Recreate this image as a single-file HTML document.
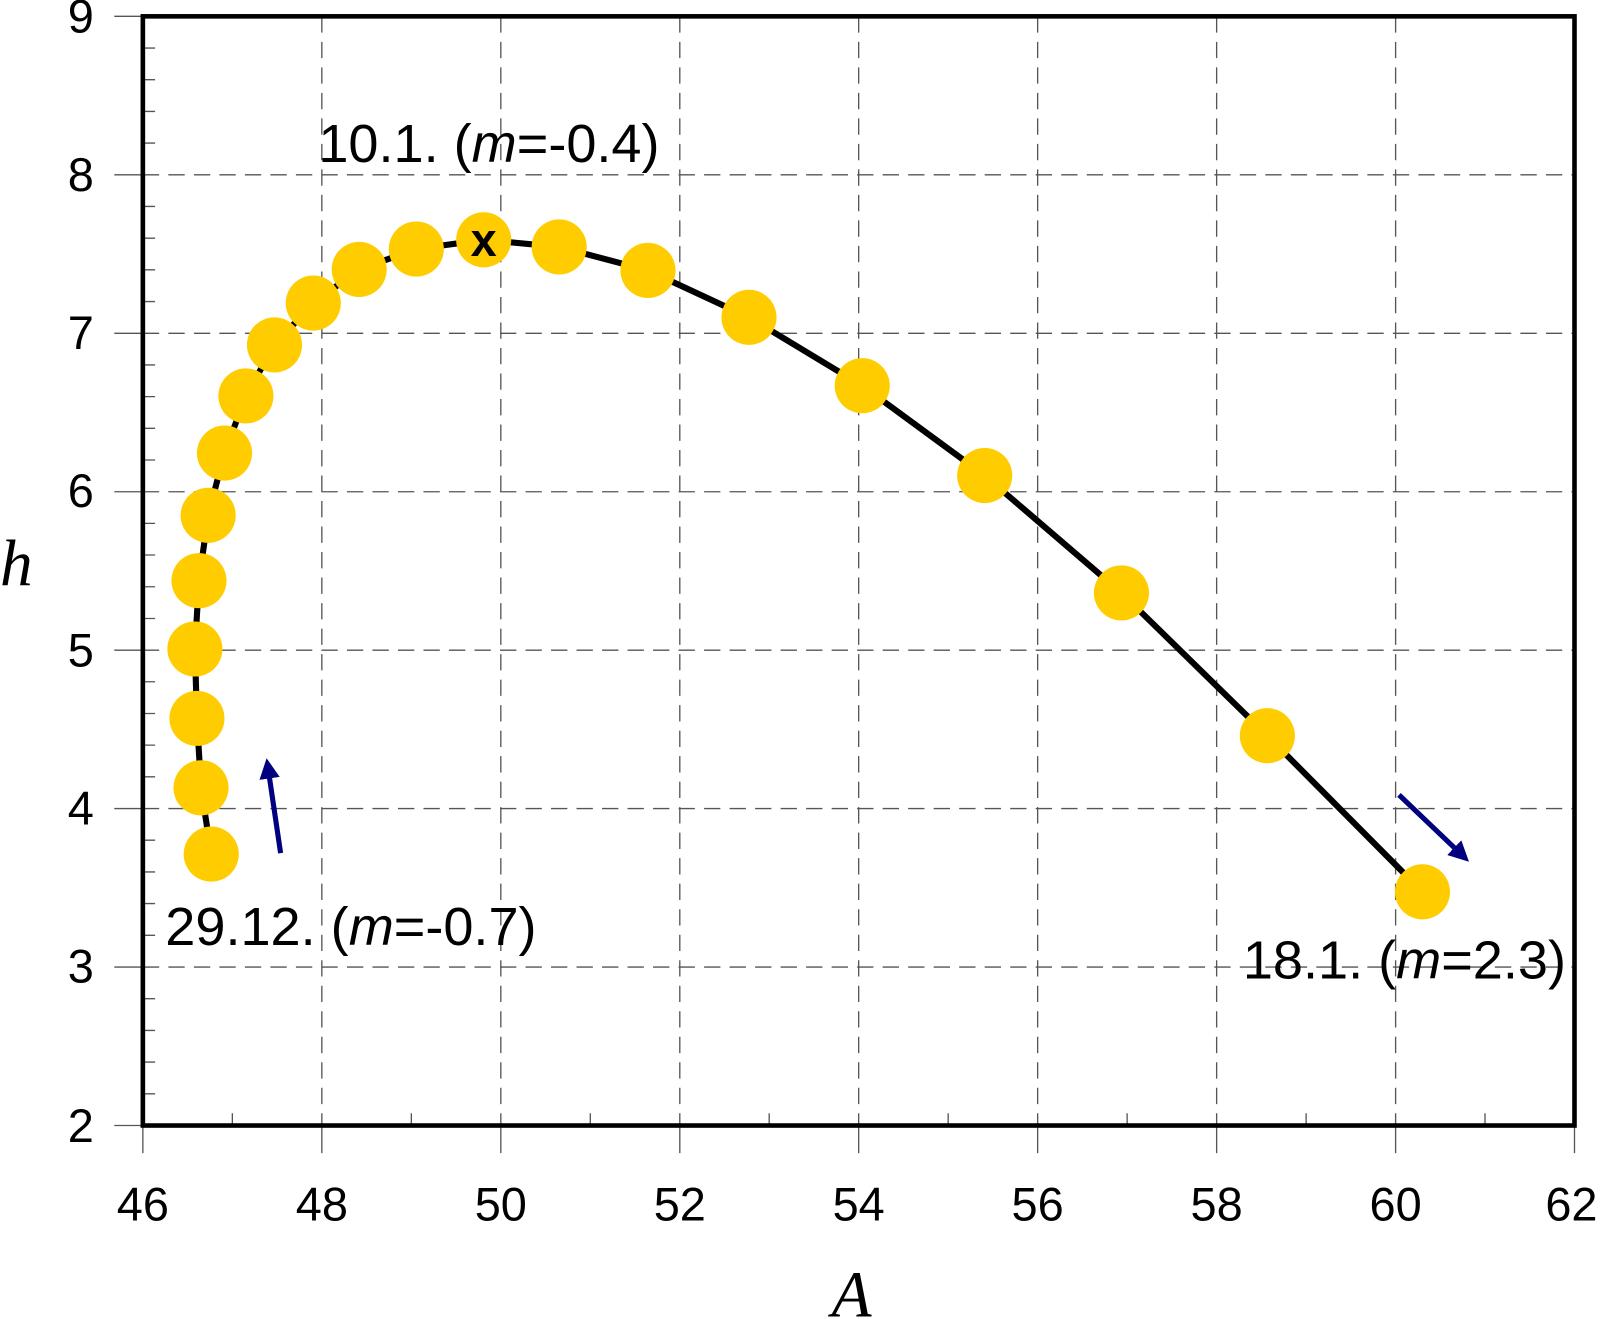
<!DOCTYPE html>
<html><head><style>body{margin:0;background:#fff}svg{display:block}</style></head>
<body>
<svg width="1600" height="1319" viewBox="0 0 1568 1292.6" xmlns="http://www.w3.org/2000/svg" font-family="Liberation Sans, sans-serif">
<defs><marker id="ah" markerWidth="4" markerHeight="4" refX="3" refY="2" orient="auto"><path d="M0,0 L4,2 L0,4 Z" fill="#000080"/></marker></defs>
<rect width="1568" height="1293" fill="#fff"/>
<g stroke="#555" stroke-width="1.3" stroke-dasharray="16,9">
<line x1="315.4" y1="16" x2="315.4" y2="1103"/><line x1="490.8" y1="16" x2="490.8" y2="1103"/><line x1="666.2" y1="16" x2="666.2" y2="1103"/><line x1="841.5" y1="16" x2="841.5" y2="1103"/><line x1="1016.9" y1="16" x2="1016.9" y2="1103"/><line x1="1192.3" y1="16" x2="1192.3" y2="1103"/><line x1="1367.7" y1="16" x2="1367.7" y2="1103"/>
<line x1="140" y1="171.3" x2="1543" y2="171.3"/><line x1="140" y1="326.6" x2="1543" y2="326.6"/><line x1="140" y1="481.9" x2="1543" y2="481.9"/><line x1="140" y1="637.2" x2="1543" y2="637.2"/><line x1="140" y1="792.4" x2="1543" y2="792.4"/><line x1="140" y1="947.7" x2="1543" y2="947.7"/>
</g>
<g stroke="#555" stroke-width="1.3">
<path d="M140,1071.9h12M140,1040.8h12M140,1009.8h12M140,978.7h12M140,916.6h12M140,885.5h12M140,854.5h12M140,823.4h12M140,761.3h12M140,730.2h12M140,699.2h12M140,668.1h12M140,606.1h12M140,575h12M140,543.9h12M140,512.9h12M140,450.8h12M140,419.7h12M140,388.7h12M140,357.6h12M140,295.5h12M140,264.4h12M140,233.4h12M140,202.3h12M140,140.2h12M140,109.2h12M140,78.1h12M140,47.1h12"/>
<path d="M227.7,1103v-12M403.1,1103v-12M578.5,1103v-12M753.8,1103v-12M929.2,1103v-12M1104.6,1103v-12M1280,1103v-12M1455.3,1103v-12"/>
<path d="M112,16h28M112,171.3h28M112,326.6h28M112,481.9h28M112,637.2h28M112,792.4h28M112,947.7h28M112,1103h28"/>
<path d="M140,1103v27M315.4,1103v27M490.8,1103v27M666.2,1103v27M841.5,1103v27M1016.9,1103v27M1192.3,1103v27M1367.7,1103v27M1543,1103v27"/>
</g>
<rect x="140" y="16" width="1403" height="1087" fill="none" stroke="#000" stroke-width="4.5"/>
<g font-size="46" text-anchor="end" fill="#000">
<text x="92" y="32">9</text><text x="92" y="187">8</text><text x="92" y="342">7</text><text x="92" y="497">6</text><text x="92" y="653">5</text><text x="92" y="808">4</text><text x="92" y="963">3</text><text x="92" y="1119">2</text>
</g>
<g font-size="46" text-anchor="middle" fill="#000">
<text x="140" y="1196">46</text><text x="315.4" y="1196">48</text><text x="490.8" y="1196">50</text><text x="666.2" y="1196">52</text><text x="841.5" y="1196">54</text><text x="1016.9" y="1196">56</text><text x="1192.3" y="1196">58</text><text x="1367.7" y="1196">60</text><text x="1540" y="1196">62</text>
</g>
<text x="0" y="574" font-family="Liberation Serif, serif" font-style="italic" font-size="64">h</text>
<text x="815" y="1290" font-family="Liberation Serif, serif" font-style="italic" font-size="64">A</text>
<polyline fill="none" stroke="#000" stroke-width="6" stroke-linejoin="round" points="207,837 197,772 193,704 191,636 195,569 204,505 220,444 241,388 269,338 307,297 352,264 408,244 474,235 548,242 635,265 734,311 845,378 965,466 1099,581 1242,721 1394,874"/>
<g fill="#FFCC00">
<circle cx="207" cy="837" r="27"/><circle cx="197" cy="772" r="27"/><circle cx="193" cy="704" r="27"/><circle cx="191" cy="636" r="27"/><circle cx="195" cy="569" r="27"/><circle cx="204" cy="505" r="27"/><circle cx="220" cy="444" r="27"/><circle cx="241" cy="388" r="27"/><circle cx="269" cy="338" r="27"/><circle cx="307" cy="297" r="27"/><circle cx="352" cy="264" r="27"/><circle cx="408" cy="244" r="27"/><circle cx="474" cy="235" r="27"/><circle cx="548" cy="242" r="27"/><circle cx="635" cy="265" r="27"/><circle cx="734" cy="311" r="27"/><circle cx="845" cy="378" r="27"/><circle cx="965" cy="466" r="27"/><circle cx="1099" cy="581" r="27"/><circle cx="1242" cy="721" r="27"/><circle cx="1394" cy="874" r="27"/>
</g>
<text x="474" y="251" font-size="46" font-weight="bold" text-anchor="middle">x</text>
<line x1="275" y1="836" x2="262" y2="748" stroke="#000080" stroke-width="5" marker-end="url(#ah)"/>
<line x1="1371" y1="779" x2="1436" y2="841" stroke="#000080" stroke-width="5" marker-end="url(#ah)"/>
<g font-size="53" fill="#000">
<text x="312" y="159">10.1. (<tspan font-style="italic">m</tspan>=-0.4)</text>
<text x="162" y="926">29.12. (<tspan font-style="italic">m</tspan>=-0.7)</text>
<text x="1218" y="959">18.1. (<tspan font-style="italic">m</tspan>=2.3)</text>
</g>
</svg>
</body></html>
